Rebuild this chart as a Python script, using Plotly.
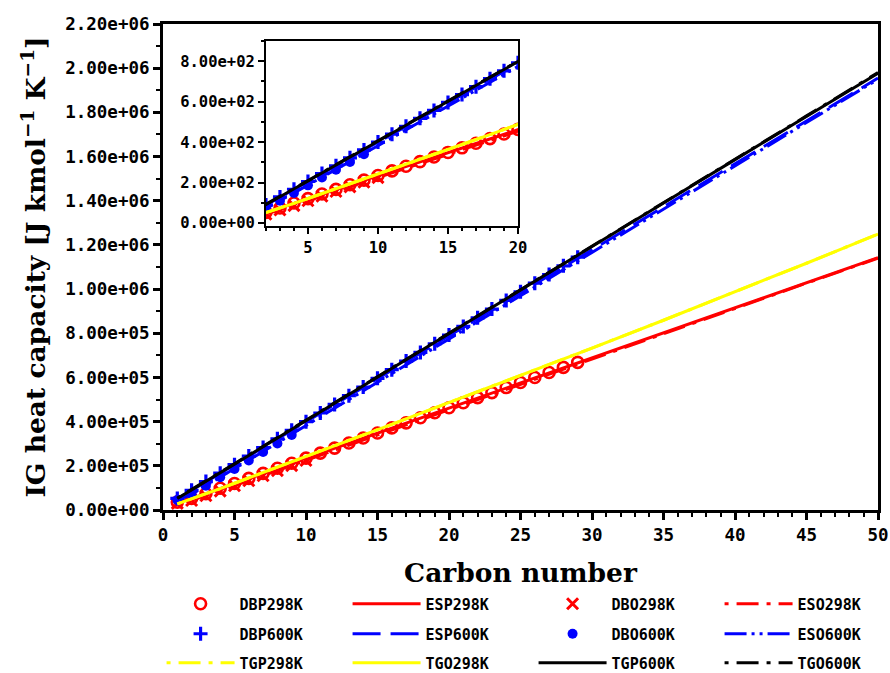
import plotly.graph_objects as go

# ---------------- data ----------------
# marker (database) series
carbon_dbp = list(range(1, 30))
dbp298 = [35700, 52500, 73600, 98500, 120100, 143100, 165900, 188800, 211700, 234600,
          257500, 280300, 303100, 326000, 348800, 371600, 394500, 417300, 440100, 462900,
          485800, 508600, 531400, 554200, 577100, 599900, 622700, 645500, 668400]
dbp600 = [52200, 88900, 128500, 166600, 205000, 244000, 283000, 322000, 361000, 400000,
          439000, 478000, 517500, 556500, 596000, 635000, 674000, 713500, 752500, 792000,
          831000, 870000, 909500, 948500, 988000, 1027000, 1066000, 1105500, 1144500]

carbon_dbo298 = list(range(1, 11))
dbo298 = [30000, 42900, 64300, 85600, 109600, 132300, 155300, 178200, 201100, 224000]
carbon_dbo600 = list(range(1, 10))
dbo600 = [45000, 70700, 110000, 148000, 186000, 224500, 263000, 301500, 340000]

# line (estimated / correlation) series
carbon_line = [1, 2, 3, 4, 5, 6, 8, 10, 12, 14, 16, 18, 20, 25, 30, 35, 40, 45, 50]
esp298 = [35700, 52500, 73600, 97500, 120000, 143000, 189000, 234500, 280000, 326000,
          371500, 417000, 462500, 576000, 690000, 804000, 917000, 1030000, 1142000]
eso298 = [22000, 43000, 64500, 87000, 110000, 133000, 179000, 225000, 271000, 317000,
          363000, 409000, 455000, 570000, 685000, 799000, 913000, 1027000, 1140000]
esp600 = [52200, 88500, 127000, 166000, 205000, 244000, 322000, 400000, 478000, 556000,
          634000, 712000, 790000, 985000, 1179000, 1373000, 1567000, 1761000, 1955000]
eso600 = [45000, 70700, 110000, 148000, 187000, 226000, 304000, 382000, 460500, 539000,
          617500, 696000, 774500, 970000, 1166000, 1362000, 1558000, 1754000, 1950000]
tgp298 = [28000, 50000, 73000, 97000, 121000, 145000, 193000, 242000, 290000, 339000,
          388000, 437000, 486000, 609000, 733000, 859000, 987000, 1117000, 1249000]
tgo298 = [28000, 50000, 73000, 97000, 121000, 145000, 193000, 242000, 290000, 339000,
          388000, 437000, 486000, 609000, 733000, 859000, 987000, 1117000, 1249000]
tgp600 = [52000, 90000, 129000, 168000, 207500, 247000, 326000, 405000, 484000, 563000,
          642000, 721000, 800000, 997000, 1193000, 1390000, 1586000, 1782000, 1977000]
tgo600 = [54000, 92000, 131000, 170000, 209500, 249000, 328000, 407000, 486000, 565000,
          644000, 723000, 802000, 999000, 1195000, 1392000, 1588000, 1784000, 1980000]

names = ["DBP298K", "ESP298K", "DBO298K", "ESO298K",
         "DBP600K", "ESP600K", "DBO600K", "ESO600K",
         "TGP298K", "TGO298K", "TGP600K", "TGO600K"]

# tick values
main_x_ticks = [0, 5, 10, 15, 20, 25, 30, 35, 40, 45, 50]
main_y_ticks = [0, 2e5, 4e5, 6e5, 8e5, 1e6, 1.2e6, 1.4e6, 1.6e6, 1.8e6, 2e6, 2.2e6]
inset_x_ticks = [5, 10, 15, 20]
inset_y_ticks = [0, 200, 400, 600, 800]

RED, BLUE, YEL, BLK = "#ff0000", "#0000ff", "#ffff00", "#000000"

series = [
    dict(name=names[0], x=carbon_dbp, y=dbp298, kind="m",
         marker=dict(symbol="circle-open", size=11, color=RED, line=dict(width=2.6, color=RED))),
    dict(name=names[1], x=carbon_line, y=esp298, kind="l", color=RED, dash="solid"),
    dict(name=names[2], x=carbon_dbo298, y=dbo298, kind="m",
         marker=dict(symbol="x-thin-open", size=11, color=RED, line=dict(width=3, color=RED))),
    dict(name=names[3], x=carbon_line, y=eso298, kind="l", color=RED, dash="4px,8px,22px,8px"),
    dict(name=names[4], x=carbon_dbp, y=dbp600, kind="m",
         marker=dict(symbol="cross-thin-open", size=10, color=BLUE, line=dict(width=3.2, color=BLUE))),
    dict(name=names[5], x=carbon_line, y=esp600, kind="l", color=BLUE, dash="28px,10px"),
    dict(name=names[6], x=carbon_dbo600, y=dbo600, kind="m",
         marker=dict(symbol="circle", size=10, color=BLUE)),
    dict(name=names[7], x=carbon_line, y=eso600, kind="l", color=BLUE,
         dash="22px,5px,3px,5px,3px,5px"),
    dict(name=names[8], x=carbon_line, y=tgp298, kind="l", color=YEL, dash="4px,8px,22px,8px"),
    dict(name=names[9], x=carbon_line, y=tgo298, kind="l", color=YEL, dash="solid"),
    dict(name=names[10], x=carbon_line, y=tgp600, kind="l", color=BLK, dash="solid"),
    dict(name=names[11], x=carbon_line, y=tgo600, kind="l", color=BLK, dash="4px,8px,22px,8px"),
]

fig = go.Figure()
legends = ["legend", "legend2", "legend3"]
for i, s in enumerate(series):
    lg = legends[i // 4]
    for inset in (False, True):
        yvals = [v / 1000 for v in s["y"]] if inset else s["y"]
        common = dict(x=s["x"], y=yvals, name=s["name"], legend=lg,
                      showlegend=not inset,
                      xaxis="x2" if inset else "x", yaxis="y2" if inset else "y")
        if s["kind"] == "m":
            fig.add_trace(go.Scatter(mode="markers", marker=s["marker"], **common))
        else:
            fig.add_trace(go.Scatter(mode="lines",
                                     line=dict(color=s["color"], width=3, dash=s["dash"]),
                                     **common))

tickfont = dict(family="DejaVu Sans Mono", size=17.5, color="black", weight="bold")
insetfont = dict(family="DejaVu Sans Mono", size=15.5, color="black", weight="bold")
titlefont = dict(family="DejaVu Serif", size=26.5, color="black", weight="bold")

axis_common = dict(showgrid=False, zeroline=False, showline=True, linecolor="black",
                   ticks="outside", tickcolor="black", mirror=True)

fig.update_layout(
    width=890, height=673,
    margin=dict(l=163, r=12, t=24, b=163, autoexpand=False),
    plot_bgcolor="white", paper_bgcolor="white",
    xaxis=dict(range=[0, 50], tickmode="array", tickvals=main_x_ticks,
               ticktext=[str(v) for v in main_x_ticks],
               linewidth=3, tickwidth=2.5, ticklen=7, tickfont=tickfont,
               minor=dict(dtick=1, tick0=0, ticks="outside", ticklen=4, tickwidth=2,
                          tickcolor="black"),
               title=dict(text="Carbon number", font=titlefont, standoff=20),
               **axis_common),
    yaxis=dict(range=[0, 2.2e6], tickmode="array", tickvals=main_y_ticks,
               ticktext=[f"{v:.2e}" for v in main_y_ticks],
               linewidth=3, tickwidth=2.5, ticklen=7, tickfont=tickfont,
               minor=dict(dtick=1e5, tick0=0, ticks="outside", ticklen=4, tickwidth=2,
                          tickcolor="black"),
               title=dict(text="IG heat capacity [J kmol<sup>−1</sup> K<sup>−1</sup>]",
                          font=titlefont, standoff=12),
               **axis_common),
    xaxis2=dict(domain=[0.144, 0.4965], anchor="y2", range=[2, 20], tickmode="array",
                tickvals=inset_x_ticks, ticktext=[str(v) for v in inset_x_ticks],
                linewidth=2, tickwidth=2, ticklen=6, tickfont=insetfont,
                minor=dict(dtick=1, tick0=0, ticks="outside", ticklen=3, tickwidth=1.5,
                           tickcolor="black"),
                **axis_common),
    yaxis2=dict(domain=[0.584, 0.965], anchor="x2", range=[-16, 900], tickmode="array",
                tickvals=inset_y_ticks, ticktext=[f"{v:.2e}" for v in inset_y_ticks],
                linewidth=2, tickwidth=2, ticklen=6, tickfont=insetfont,
                minor=dict(dtick=100, tick0=0, ticks="outside", ticklen=3, tickwidth=1.5,
                           tickcolor="black"),
                **axis_common),
)

legfont = dict(family="DejaVu Sans Mono", size=15, color="black", weight="bold")
rows_y = [-0.1934, -0.2551, -0.3148]
for lg, yy in zip(legends, rows_y):
    fig.update_layout({lg: dict(orientation="h", x=-0.002, xanchor="left", y=yy,
                                yanchor="middle", font=legfont, entrywidth=103,
                                entrywidthmode="pixels", itemwidth=68,
                                bgcolor="rgba(0,0,0,0)", traceorder="normal")})

fig.write_html("out.html")
